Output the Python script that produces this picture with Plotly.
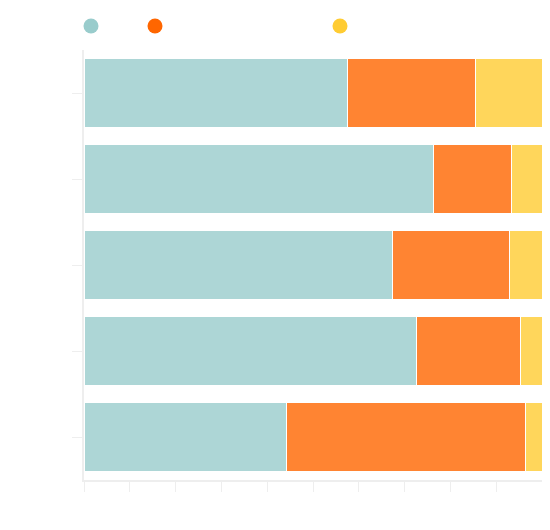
import plotly.graph_objects as go

categories = ["Group 1", "Group 2", "Group 3", "Group 4", "Group 5"]
series_names = ["Series A", "Series B", "Series C"]
series_a = [57.5, 76.2, 67.3, 72.7, 44.2]
series_b = [27.9, 17.2, 25.5, 22.6, 52.2]
series_c = [14.6, 6.6, 7.2, 4.7, 3.6]
colors = ["#99cccc", "#ff6600", "#ffcc33"]
x_ticks = [0, 10, 20, 30, 40, 50, 60, 70, 80, 90]

W, H = 534, 514
fig = go.Figure()
for name, vals, col in zip(series_names, [series_a, series_b, series_c], colors):
    fig.add_trace(go.Bar(
        y=categories, x=vals, orientation="h", name=name,
        marker=dict(color=col, line=dict(color="white", width=1)),
        opacity=0.8, showlegend=False,
    ))

legend_px = [82, 146, 331]
for i, (name, col) in enumerate(zip(series_names, colors)):
    lg = "legend" if i == 0 else f"legend{i+1}"
    fig.add_trace(go.Scatter(
        x=[None], y=[None], mode="markers", name=name,
        marker=dict(color=col, size=15, symbol="circle"),
        legend=lg, showlegend=True,
    ))

legend_common = dict(orientation="h", xref="container", yref="container",
                     xanchor="left", yanchor="middle",
                     font=dict(color="rgba(0,0,0,0)", size=12),
                     bgcolor="rgba(0,0,0,0)")
layout_legends = {}
for i, px in enumerate(legend_px):
    key = "legend" if i == 0 else f"legend{i+1}"
    layout_legends[key] = dict(legend_common, x=(px - 19) / W, y=1 - 18 / H)

fig.update_layout(
    width=W, height=H,
    margin=dict(l=76, r=0, t=42, b=42),
    barmode="stack", bargap=0.2,
    plot_bgcolor="white", paper_bgcolor="white",
    xaxis=dict(range=[0, 100], tickvals=x_ticks, showticklabels=False,
               ticks="outside", ticklen=10, tickcolor="#eeeeee",
               showline=True, linecolor="#eeeeee", linewidth=2,
               showgrid=False, zeroline=False),
    yaxis=dict(categoryorder="array", categoryarray=categories[::-1],
               showticklabels=False, ticks="outside", ticklen=10,
               tickcolor="#eeeeee", showline=True, linecolor="#eeeeee",
               linewidth=2, showgrid=False, zeroline=False),
    **layout_legends,
)
fig.write_html("out.html")
